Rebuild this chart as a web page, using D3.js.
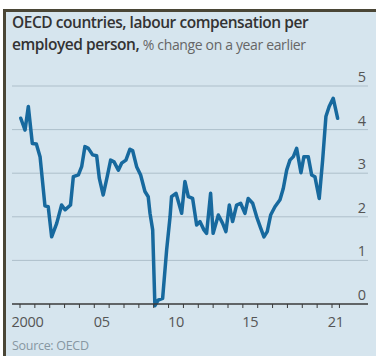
<!DOCTYPE html>
<html>
<head>
<meta charset="utf-8">
<script src="https://cdn.jsdelivr.net/npm/d3@7"></script>
<style>
  html, body { margin: 0; padding: 0; background: #ffffff; }
  svg { display: block; }
</style>
</head>
<body>
<svg id="chart" width="376" height="356"></svg>
<script>
// OECD labour compensation per employed person, % change on a year earlier
const periods = [
  2000.05, 2000.34, 2000.56, 2000.83, 2001.10, 2001.35, 2001.68, 2001.90,
  2002.13, 2002.47, 2002.80, 2003.03, 2003.40, 2003.59, 2003.93, 2004.15,
  2004.37, 2004.60, 2004.89, 2005.16, 2005.34, 2005.60, 2005.87, 2006.10,
  2006.33, 2006.62, 2006.84, 2007.13, 2007.40, 2007.58, 2007.85, 2008.12,
  2008.41, 2008.63, 2008.75, 2008.93, 2009.08, 2009.30, 2009.60, 2009.87,
  2010.10, 2010.20, 2010.50, 2010.88, 2011.10, 2011.33, 2011.62, 2011.89,
  2012.11, 2012.38, 2012.56, 2012.83, 2013.00, 2013.35, 2013.64, 2013.86,
  2014.09, 2014.31, 2014.58, 2014.85, 2015.14, 2015.36, 2015.66, 2015.93,
  2016.20, 2016.42, 2016.64, 2016.87, 2017.16, 2017.50, 2017.72, 2017.95,
  2018.17, 2018.40, 2018.62, 2018.91, 2019.11, 2019.40, 2019.63, 2019.85,
  2020.14, 2020.37, 2020.59, 2020.81, 2021.08, 2021.38
];
const values = [
  4.26, 3.99, 4.53, 3.68, 3.67, 3.38, 2.25, 2.23,
  1.54, 1.85, 2.27, 2.16, 2.27, 2.92, 2.96, 3.15,
  3.61, 3.57, 3.42, 3.40, 2.88, 2.50, 2.92, 3.30,
  3.26, 3.07, 3.23, 3.30, 3.55, 3.52, 3.15, 2.96,
  2.58, 2.46, 2.08, 1.70, -0.04, 0.09, 0.13, 1.24,
  2.00, 2.46, 2.54, 2.08, 2.81, 2.46, 2.42, 1.81,
  1.89, 1.70, 1.62, 2.54, 1.62, 2.04, 1.85, 1.66,
  2.27, 1.89, 2.27, 2.31, 2.08, 2.42, 2.31, 2.00,
  1.74, 1.54, 1.66, 2.04, 2.23, 2.39, 2.65, 3.07,
  3.30, 3.38, 3.57, 3.01, 3.38, 3.38, 2.96, 2.92,
  2.42, 3.30, 4.30, 4.53, 4.72, 4.26
];
const yTicks = [0, 1, 2, 3, 4, 5];
const yearTicks = d3.range(2000, 2022).concat([2021.5]);
const xLabels = [
  { at: 2000.5, text: "2000" },
  { at: 2005.5, text: "05" },
  { at: 2010.5, text: "10" },
  { at: 2015.5, text: "15" },
  { at: 2021.25, text: "21" }
];
const titleBold = "OECD countries, labour compensation per";
const titleBold2 = "employed person, ";
const subtitle = "% change on a year earlier";
const source = "Source: OECD";

const W = 376, H = 356;
const svg = d3.select("#chart");
const font = "'Open Sans', 'Noto Sans', sans-serif";

// Panel background and frame
svg.append("rect").attr("x", 0).attr("y", 0).attr("width", W).attr("height", H).attr("fill", "#ffffff");
svg.append("rect").attr("x", 3).attr("y", 9).attr("width", W - 3).attr("height", H - 9).attr("fill", "#d6e5ee");
svg.append("rect").attr("x", 3).attr("y", 9).attr("width", W - 3).attr("height", 3).attr("fill", "#4a4636");
svg.append("rect").attr("x", 3).attr("y", 9).attr("width", 3).attr("height", H - 9).attr("fill", "#4a4636");

const x = d3.scaleLinear().domain([2000, 2021]).range([20, 332]);
const y = d3.scaleLinear().domain([0, 5]).range([304, 86]);
const gridLeft = 12, gridRight = 368;

// Horizontal gridlines and right-hand value labels
svg.append("g").selectAll("line")
  .data(yTicks.filter(d => d !== 0))
  .join("line")
  .attr("x1", gridLeft).attr("x2", gridRight)
  .attr("y1", d => y(d)).attr("y2", d => y(d))
  .attr("stroke", "#aebfca").attr("stroke-width", 1);

svg.append("g").selectAll("text")
  .data(yTicks)
  .join("text")
  .attr("x", 366).attr("y", d => y(d) - 4)
  .attr("text-anchor", "end")
  .attr("font-family", font).attr("font-size", 14.5)
  .attr("fill", "#555555")
  .text(d => d);

// Data line
const line = d3.line()
  .x((d, i) => x(periods[i]))
  .y(d => y(d));

svg.append("path")
  .datum(values)
  .attr("d", line)
  .attr("fill", "none")
  .attr("stroke", "#17699e")
  .attr("stroke-width", 3.5)
  .attr("stroke-linejoin", "round")
  .attr("stroke-linecap", "round");

// Zero baseline with year ticks
svg.append("line")
  .attr("x1", gridLeft).attr("x2", gridRight)
  .attr("y1", y(0)).attr("y2", y(0))
  .attr("stroke", "#3a3a3a").attr("stroke-width", 1.4);

svg.append("g").selectAll("line")
  .data(yearTicks)
  .join("line")
  .attr("x1", d => x(d)).attr("x2", d => x(d))
  .attr("y1", y(0)).attr("y2", y(0) + 4)
  .attr("stroke", "#3a3a3a").attr("stroke-width", 1);

svg.append("g").selectAll("text")
  .data(xLabels)
  .join("text")
  .attr("x", d => x(d.at)).attr("y", 327)
  .attr("text-anchor", "middle")
  .attr("font-family", font).attr("font-size", 14.5)
  .attr("letter-spacing", -0.3)
  .attr("fill", "#555555")
  .text(d => d.text);

// Title block
svg.append("text")
  .attr("x", 12).attr("y", 28)
  .attr("font-family", font).attr("font-size", 15.5).attr("font-weight", 600)
  .attr("letter-spacing", -0.45)
  .attr("fill", "#333333")
  .text(titleBold);

const t2 = svg.append("text")
  .attr("x", 12).attr("y", 50)
  .attr("font-family", font).attr("font-size", 15.5);
t2.append("tspan").attr("font-weight", 600).attr("fill", "#333333")
  .attr("letter-spacing", -0.45).text(titleBold2);
t2.append("tspan").attr("font-size", 14).attr("fill", "#666666")
  .attr("letter-spacing", -0.35).text(subtitle);

// Source note
svg.append("text")
  .attr("x", 12).attr("y", 350)
  .attr("font-family", font).attr("font-size", 12.5)
  .attr("letter-spacing", -0.3)
  .attr("fill", "#8797a2")
  .text(source);
</script>
</body>
</html>
